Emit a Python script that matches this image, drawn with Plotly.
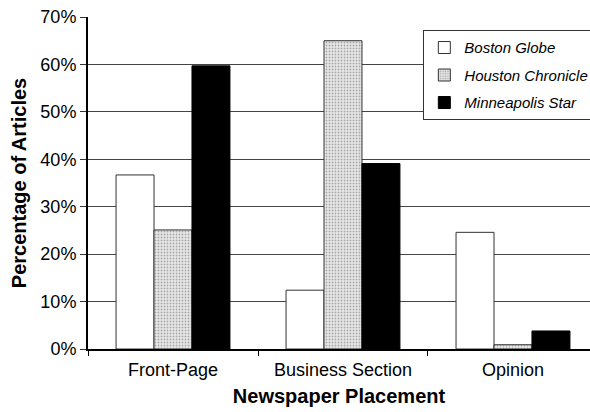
import plotly.graph_objects as go

categories = ["Front-Page", "Business Section", "Opinion"]
boston = [36.7, 12.4, 24.6]
houston = [25.1, 65.0, 0.9]
minneapolis = [59.7, 39.1, 3.8]
series_names = ["Boston Globe", "Houston Chronicle", "Minneapolis Star"]
y_ticks = [0, 10, 20, 30, 40, 50, 60, 70]

fig = go.Figure()
fig.add_trace(go.Bar(
    x=categories, y=boston, name=series_names[0], legendgroup="a",
    marker=dict(color="white", line=dict(color="#333333", width=1)),
))
fig.add_trace(go.Bar(
    x=categories, y=houston, name=series_names[1], legendgroup="b",
    marker=dict(color="#e0e0e0", line=dict(color="#333333", width=1),
                pattern=dict(shape=".", fgcolor="#666666", bgcolor="#e8e8e8",
                             size=3, solidity=0.3)),
))
fig.add_trace(go.Bar(
    x=categories, y=minneapolis, name=series_names[2], legendgroup="c",
    marker=dict(color="black", line=dict(color="black", width=1)),
))

font_family = "Liberation Sans, Arial, sans-serif"
fig.update_layout(
    width=590, height=412,
    margin=dict(l=88, r=0, t=17, b=63, autoexpand=False),
    paper_bgcolor="white", plot_bgcolor="white",
    barmode="group", bargap=0.33, bargroupgap=0,
    font=dict(family=font_family, color="black", size=18),
    showlegend=True,
    legend=dict(
        x=0.668, y=0.96, xanchor="left", yanchor="top",
        bordercolor="#333333", borderwidth=1, bgcolor="white",
        font=dict(size=15, family=font_family, style="italic"),
        traceorder="grouped", tracegroupgap=5,
        itemwidth=30,
    ),
    xaxis=dict(
        range=[-0.5, 2.453], automargin=False,
        showline=True, linecolor="black", linewidth=2,
        ticks="outside", tickson="boundaries", ticklen=5, tickcolor="black",
        tickfont=dict(size=18), ticklabelstandoff=3,
        title=dict(text="<b>Newspaper Placement</b>", font=dict(size=20), standoff=10),
        showgrid=False,
    ),
    yaxis=dict(
        range=[0, 70], tickvals=y_ticks, automargin=False,
        ticktext=[f"{v}%" for v in y_ticks],
        showline=True, linecolor="black", linewidth=2,
        ticks="outside", ticklen=6, tickcolor="#333333",
        tickfont=dict(size=18),
        showgrid=True, gridcolor="#444444", gridwidth=1.2,
        zeroline=False,
        title=dict(text="<b>Percentage of Articles</b>", font=dict(size=20), standoff=8),
    ),
)

fig.write_html("out.html")
